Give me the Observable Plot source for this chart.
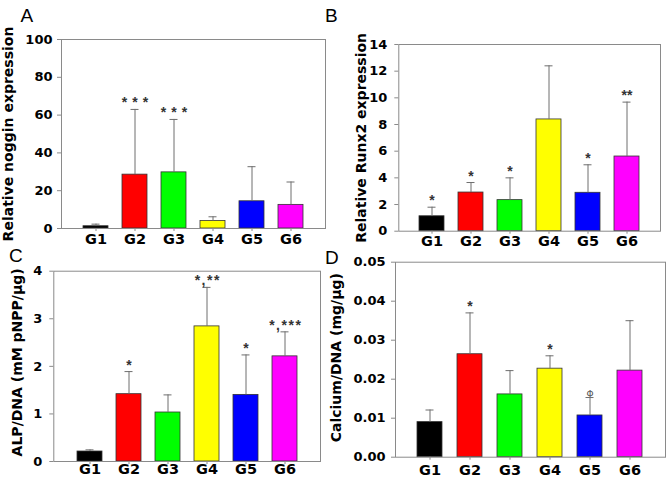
<!DOCTYPE html>
<html><head><meta charset="utf-8">
<script src="https://cdn.jsdelivr.net/npm/d3@7"></script>
<script src="https://cdn.jsdelivr.net/npm/@observablehq/plot@0.6"></script>
<style>
body{margin:0;background:#fff;}
#wrap{position:relative;width:671px;height:486px;overflow:hidden;background:#fff;}
.panel{position:absolute;}
.letter{position:absolute;font-family:"Liberation Sans",Arial,sans-serif;font-size:19px;line-height:1;color:#000;}
</style></head><body><div id="wrap"></div>
<script>
const groups = ["G1","G2","G3","G4","G5","G6"];
const colors = ["#000000","#ff0000","#00ff00","#ffff00","#0000ff","#ff00ff"];

// Panel A: Relative noggin expression (mean, upper error end)
const nogginMean = [1.2, 28.5, 29.7, 4.0, 14.4, 12.5];
const nogginErr  = [2.3, 63.0, 57.7, 6.2, 32.7, 24.6];
const nogginSig  = ["", "***", "***", "", "", ""];
const nogginTicks = [0, 20, 40, 60, 80, 100];

// Panel B: Relative Runx2 expression
const runx2Mean = [1.12, 2.9, 2.33, 8.38, 2.88, 5.6];
const runx2Err  = [1.8, 3.65, 4.0, 12.4, 4.98, 9.68];
const runx2Sig  = ["*", "*", "*", "", "*", "**"];
const runx2Ticks = [0, 2, 4, 6, 8, 10, 12, 14];

// Panel C: ALP/DNA
const alpMean = [0.21, 1.415, 1.03, 2.84, 1.40, 2.21];
const alpErr  = [0.245, 1.89, 1.40, 3.66, 2.24, 2.725];
const alpSig  = ["", "*", "", "*,**", "*", "*,***"];
const alpTicks = [0, 1, 2, 3, 4];

// Panel D: Calcium/DNA
const caMean = [0.0090, 0.0264, 0.0161, 0.0227, 0.0107, 0.0222];
const caErr  = [0.0121, 0.0370, 0.0222, 0.0260, 0.0153, 0.0350];
const caSig  = ["", "*", "", "*", "Φ", ""];
const caTicks = [0, 0.01, 0.02, 0.03, 0.04, 0.05];

const panels = [
  {letter: "A", lx: 20.5, ly: 6, left: 0, top: 0, width: 335, height: 245,
   mL: 61, mR: 10, mT: 39, mB: 17, mean: nogginMean, err: nogginErr, sig: nogginSig,
   ticks: nogginTicks, domain: [0, 100], fmt: d3.format("d"), yPad: 9,
   label: "Relative noggin expression", labelDx: -52.5, labelDy: 0, xPad: 5.7, starSpacing: 5},
  {letter: "B", lx: 325, ly: 6, left: 335, top: 0, width: 336, height: 245,
   mL: 63.3, mR: 11, mT: 44, mB: 14.3, mean: runx2Mean, err: runx2Err, sig: runx2Sig,
   ticks: runx2Ticks, domain: [0, 14], fmt: d3.format("d"), yPad: 11.5,
   label: "Relative Runx2 expression", labelDx: -37.3, labelDy: 0, xPad: 4.3, starSpacing: 0},
  {letter: "C", lx: 9, ly: 245.5, left: 0, top: 245, width: 335, height: 241,
   mL: 53.3, mR: 15, mT: 25.7, mB: 25, mean: alpMean, err: alpErr, sig: alpSig,
   ticks: alpTicks, domain: [0, 4], fmt: d3.format("d"), yPad: 11.5,
   label: "ALP/DNA (mM pNPP/\u03bcg)", labelDx: -36.3, labelDy: -4, xPad: 2.2, starSpacing: 1.5},
  {letter: "D", lx: 325, ly: 247.5, left: 322, top: 245, width: 349, height: 241,
   mL: 73, mR: 6, mT: 16.7, mB: 29.3, mean: caMean, err: caErr, sig: caSig,
   ticks: caTicks, domain: [0, 0.05], fmt: d3.format(".2f"), yPad: 10,
   label: "Calcium/DNA (mg/\u03bcg)", labelDx: -59, labelDy: -2, xPad: 8, starSpacing: 0}
];

const wrap = document.getElementById("wrap");

for (const p of panels) {
  const data = groups.map((g, i) => ({g, mean: p.mean[i], err: p.err[i], sig: p.sig[i]}));
  const starData = data.filter(d => d.sig && d.sig !== "Φ");
  const phiData = data.filter(d => d.sig === "Φ");
  const chart = Plot.plot({
    width: p.width, height: p.height,
    marginLeft: p.mL, marginRight: p.mR, marginTop: p.mT, marginBottom: p.mB,
    style: {background: "transparent", fontFamily: "DejaVu Sans", fontWeight: "bold", overflow: "visible", color: "#000"},
    x: {domain: groups, paddingInner: 0.37, paddingOuter: 0.54, label: null},
    y: {domain: p.domain, label: null},
    color: {domain: groups, range: colors},
    marks: [
      Plot.barY(data, {x: "g", y: "mean", fill: "g", stroke: "#333", strokeWidth: 0.8}),
      Plot.ruleX(data, {x: "g", y1: "mean", y2: "err", stroke: "#6e6e6e", strokeWidth: 1}),
      Plot.tickY(data, {x: "g", y: "err", stroke: "#6e6e6e", strokeWidth: 1, insetLeft: 8.5, insetRight: 8.5}),
      Plot.frame({stroke: "#8a8a8a", strokeWidth: 1}),
      Plot.axisY({ticks: p.ticks, tickFormat: () => "", tickSize: 4, stroke: "#8a8a8a", label: null}),
      Plot.axisX({tickSize: 3, tickFormat: () => "", stroke: "#8a8a8a", label: null}),
      // y tick labels
      Plot.text(p.ticks, {y: d => d, text: d => p.fmt(d), frameAnchor: "left", textAnchor: "end",
        lineAnchor: "middle", dx: -p.yPad, fontSize: 13, fontWeight: "bold", fill: "#000"}),
      // x tick labels
      Plot.text(data, {x: "g", text: "g", frameAnchor: "bottom", lineAnchor: "top", dy: p.xPad,
        fontSize: 14.5, fontWeight: "bold", fill: "#000"}),
      Plot.text(starData, {x: "g", y: "err", text: "sig", lineAnchor: "bottom", dy: -2, dx: p.starSpacing / 2,
        fontFamily: "Liberation Sans", fontSize: 14, fontWeight: "bold", fill: "#333"}),
      Plot.text(phiData, {x: "g", y: "err", text: "sig", lineAnchor: "bottom", dy: -1,
        fontFamily: "DejaVu Sans", fontSize: 9, fontWeight: "normal", fill: "#555"}),
      Plot.text([p.label], {frameAnchor: "left", textAnchor: "middle", rotate: -90, dx: p.labelDx, dy: p.labelDy,
        fontSize: 14, fontWeight: "bold", fill: "#000"})
    ]
  });
  if (p.starSpacing) {
    d3.select(chart).selectAll("text")
      .filter(function() { return /^[*,]+$/.test(this.textContent); })
      .style("letter-spacing", p.starSpacing + "px");
  }
  const div = document.createElement("div");
  div.className = "panel";
  div.style.left = p.left + "px";
  div.style.top = p.top + "px";
  div.appendChild(chart);
  wrap.appendChild(div);
  const l = document.createElement("div");
  l.className = "letter";
  l.style.left = p.lx + "px";
  l.style.top = p.ly + "px";
  l.textContent = p.letter;
  wrap.appendChild(l);
}
</script></body></html>
